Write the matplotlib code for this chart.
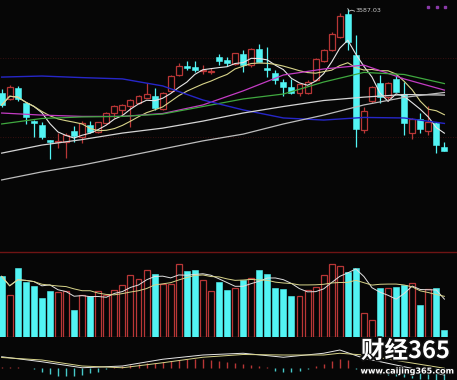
import matplotlib
matplotlib.use('Agg')
import matplotlib.pyplot as plt
import matplotlib.patheffects as pe
from matplotlib.lines import Line2D
import numpy as np
import pandas as pd

# ---------------- data (weekly candles) ----------------
open_ = [3263,3240,3282,3223,3155,3140,3082,3073,3076,3117,3095,3140,3114,3149,3186,3198,3213,3226,3245,3252,
         3200,3272,3332,3367,3362,3349,3345,3400,3390,3374,3411,3370,3431,3359,3341,3306,3285,3262,3262,3313,
         3386,3428,3477,3566,3409,3121,3233,3300,3249,3315,3259,3110,3164,3118,3147,3054]
high_ = [3278,3294,3290,3228,3159,3152,3084,3109,3109,3136,3157,3155,3152,3190,3217,3221,3240,3255,3300,3281,
         3267,3332,3379,3387,3387,3370,3357,3413,3402,3416,3428,3436,3450,3440,3351,3317,3317,3299,3313,3397,
         3432,3498,3571,3587.03,3486,3209,3290,3332,3305,3332,3305,3167,3186,3213,3152,3076]
low_ = [3209,3236,3232,3144,3094,3086,3009,3052,3013,3075,3071,3109,3109,3144,3167,3178,3132,3221,3244,3198,
        3198,3267,3328,3351,3345,3336,3334,3370,3367,3370,3345,3362,3380,3324,3297,3251,3259,3251,3259,3309,
        3382,3424,3474,3428,3057,3109,3224,3224,3233,3265,3102,3086,3110,3102,3034,3040]
close_ = [3217,3284,3240,3169,3148,3094,3075,3080,3102,3098,3149,3114,3150,3187,3213,3217,3236,3251,3258,3204,
          3264,3328,3367,3360,3353,3353,3349,3387,3377,3415,3370,3431,3383,3351,3313,3285,3263,3296,3306,3392,
          3428,3489,3559,3460,3124,3194,3285,3249,3302,3268,3147,3162,3124,3153,3063,3041]
volume = [607,417,694,547,507,394,464,450,457,274,424,414,457,417,467,517,620,580,674,634,
          534,534,727,660,674,567,460,547,474,487,567,594,667,634,490,480,407,407,474,500,
          617,727,714,650,694,240,167,490,494,500,524,540,317,480,490,67]

# longer moving averages at sample candles
ma_idx = [0,5,10,15,20,25,30,35,40,45,50,55]
ma20 = [3186,3178,3173,3173,3184,3217,3271,3332,3355,3370,3317,3274]
ma30 = [3144,3165,3171,3173,3182,3211,3240,3259,3305,3342,3334,3299]
ma60 = [3324,3328,3322,3317,3290,3236,3198,3167,3159,3169,3167,3146]
ma120 = [3032,3063,3084,3109,3128,3155,3186,3211,3234,3247,3257,3255]
ma250 = [2929,2960,2986,3017,3048,3079,3105,3144,3178,3217,3246,3265]

# MACD
macd_idx = [0,5,10,15,20,25,30,35,40,42,45,50,55]
dif = [45,25,1,8,35,52,59,43,59,72,39,5,-28]
dea = [42,32,8,1,21,43,54,52,52,59,52,25,-1]
macd_hist = [6,6,4,2,-2,
             -16,-24,-30,-32,-30,-26,-20,-14,-4,
             6,10,14,18,20,22,24,28,32,36,38,36,32,28,24,
             20,16,12,8,4,
             -12,-16,-16,-10,-2,
             10,18,28,36,32,
             -4,-12,-18,-22,-26,-30,-34,-38,-42,-44,-48,-48]

peak_label = "3587.03"

# ---------------- styling ----------------
BG = '#060606'
CYAN = '#52f4f4'
RED = '#b83636'

o = np.array(open_, float); h = np.array(high_, float)
l = np.array(low_, float); c = np.array(close_, float)
v = np.array(volume, float)
n = len(c)
x = np.arange(n)
up = c >= o
dn = ~up

fig = plt.figure(figsize=(4.57, 3.80), dpi=100, facecolor=BG)
W, H = 457.0, 380.0
ax = fig.add_axes([0, 128 / H, 1, 252 / H])
axv = fig.add_axes([0, 43 / H, 1, 85 / H])
axm = fig.add_axes([0, 0, 1, 43 / H])
xl = (-1.65 / 8.05, (W - 1.65) / 8.05)
for a in (ax, axv, axm):
    a.set_facecolor(BG)
    a.set_xlim(*xl)
    a.set_axis_off()

ax.set_ylim(2652.3, 3620)
axv.set_ylim(0, 850)
axm.set_ylim(-48, 124)

# grid lines
for gy in (3397, 3094):
    ax.axhline(gy, color='#4a1414', lw=0.6, ls=(0, (1, 2)), zorder=0)
fig.add_artist(Line2D([0, 1], [1 - 252 / H, 1 - 252 / H], color='#6e1414', lw=1.0))
axv.axhline(0, color='#3a0e0e', lw=0.8, zorder=0)

# candles
bw = 0.74
bot = np.minimum(o, c)
top = np.maximum(o, c)
bh = np.maximum(top - bot, 2.5)
ax.vlines(x[dn], l[dn], h[dn], color=CYAN, lw=0.9, zorder=2)
ax.bar(x[dn], bh[dn], bottom=bot[dn], width=bw, color=CYAN, edgecolor=CYAN, lw=0.4, zorder=2)
ax.vlines(x[up], top[up], h[up], color=RED, lw=0.9, zorder=2)
ax.vlines(x[up], l[up], bot[up], color=RED, lw=0.9, zorder=2)
ax.bar(x[up], bh[up], bottom=bot[up], width=bw, facecolor=BG, edgecolor=RED, lw=0.9, zorder=2)

# moving averages
cs = pd.Series(c)
ax.plot(x, cs.rolling(5, min_periods=1).mean(), color='#e6e6e6', lw=0.8, zorder=3)
ax.plot(x, cs.rolling(10, min_periods=1).mean(), color='#d8d48a', lw=0.8, zorder=3)
ax.plot(ma_idx, ma20, color='#c43cc4', lw=0.9, zorder=3)
ax.plot(ma_idx, ma30, color='#3fa83f', lw=0.9, zorder=3)
ax.plot(ma_idx, ma60, color='#2626c8', lw=1.0, zorder=3)
ax.plot(ma_idx, ma120, color='#d4d4d4', lw=0.9, zorder=3)
ax.plot(ma_idx, ma250, color='#bdbdbd', lw=0.9, zorder=3)

# peak label
pk = int(np.argmax(h))
ax.plot([pk, pk + 0.15, pk + 0.5, pk + 0.85], [h[pk], h[pk] - 10, h[pk] - 6, h[pk] - 10],
        color='#c8c8c8', lw=0.6, zorder=4)
ax.text(pk + 0.95, h[pk] - 9, peak_label, color='#c8c8c8', fontsize=4.6,
        ha='left', va='center', zorder=4)

# top-right dots
for px in (428.3, 436.7, 445.0):
    fig.add_artist(Line2D([px / W], [1 - 7.3 / H], marker='s', ms=1.6, color='#8a3aa8', lw=0))

# volume
axv.bar(x[dn], v[dn], width=bw, color=CYAN, edgecolor=CYAN, lw=0.4, zorder=2)
axv.bar(x[up], v[up], width=bw, facecolor=BG, edgecolor=RED, lw=0.9, zorder=2)
vs = pd.Series(v)
axv.plot(x, vs.rolling(5, min_periods=1).mean(), color='#e0e0e0', lw=0.7, zorder=3)
axv.plot(x, vs.rolling(10, min_periods=1).mean(), color='#d8d48a', lw=0.7, zorder=3)

# MACD
mh = np.array(macd_hist, float)
pos = mh >= 0
axm.vlines(x[pos], 0, mh[pos], color=RED, lw=1.0, zorder=2)
axm.vlines(x[~pos], 0, mh[~pos], color='#46c8c8', lw=1.0, zorder=2)
axm.plot(macd_idx, dif, color='#e6e6e6', lw=0.7, zorder=3)
axm.plot(macd_idx, dea, color='#d8d48a', lw=0.7, zorder=3)

# watermark
fig.text(405.5 / W, 1 - 351 / H, '财经365', color='white', fontsize=17, fontweight='bold',
         family=['Noto Sans CJK SC', 'DejaVu Sans'], ha='center', va='center',
         path_effects=[pe.withStroke(linewidth=2.5, foreground='#111111')], zorder=10)
fig.text(407 / W, 1 - 371 / H, 'www.caijing365.com', color='white', fontsize=5.8, fontweight='bold',
         family=['DejaVu Sans'], ha='center', va='center',
         path_effects=[pe.withStroke(linewidth=1.5, foreground='#111111')], zorder=10)

fig.savefig('out.png', dpi=100, facecolor=BG)
